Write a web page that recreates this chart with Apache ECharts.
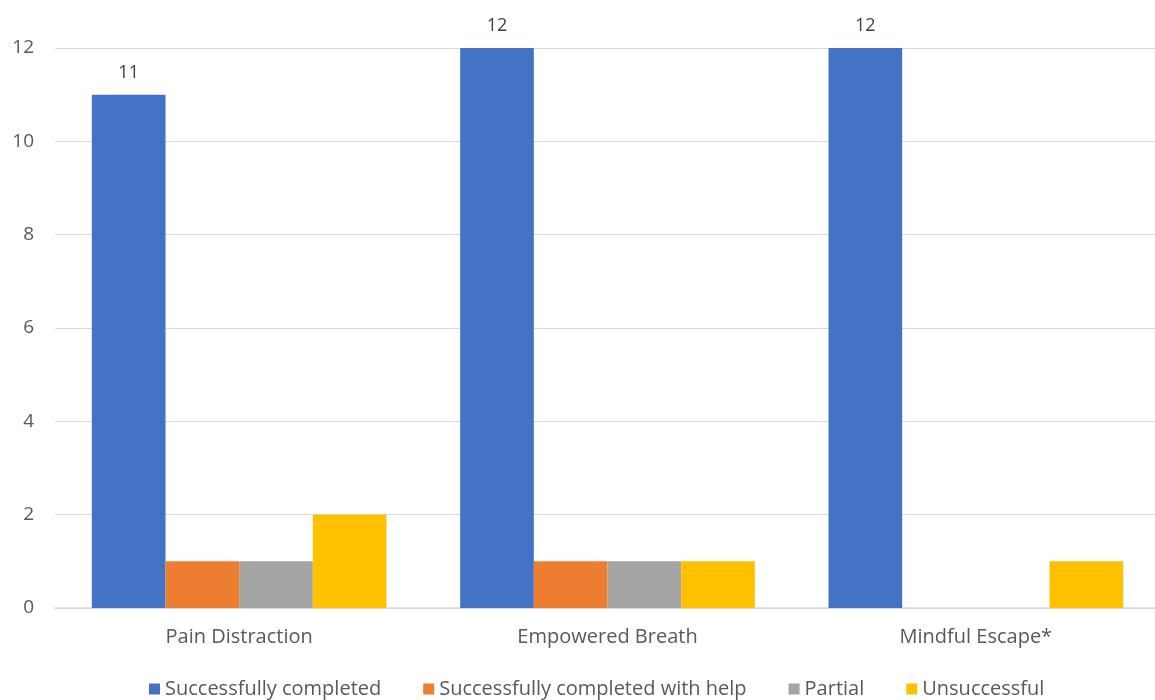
<!DOCTYPE html>
<html><head><meta charset="utf-8">
<script src="https://cdn.jsdelivr.net/npm/echarts@6/dist/echarts.min.js"></script>
<style>html,body{margin:0;padding:0;background:#fff}#c{width:1155px;height:700px}</style>
</head><body><div id="c"></div>
<script>
const categories = ["Pain Distraction", "Empowered Breath", "Mindful Escape*"];
const successfullyCompleted = [11, 12, 12];
const completedWithHelp = [1, 1, 0];
const partial = [1, 1, 0];
const unsuccessful = [2, 1, 1];
const seriesNames = ["Successfully completed", "Successfully completed with help", "Partial", "Unsuccessful"];
const colors = ["#4472C4", "#ED7D31", "#A5A5A5", "#FFC000"];
const font = "'Open Sans', 'Noto Sans', sans-serif";

const chart = echarts.init(document.getElementById('c'));
const mk = (name, data, color, label) => ({
  name, type: 'bar', data, barGap: 0, barCategoryGap: '20%',
  itemStyle: { color },
  label: label ? { show: true, position: 'top', distance: 13, color: '#404040', fontSize: 18, fontFamily: font } : { show: false }
});
chart.setOption({
  animation: false,
  textStyle: { fontFamily: font },
  grid: { left: 55, width: 1105, top: 48, bottom: 92, containLabel: false, outerBoundsMode: 'none' },
  legend: {
    top: 674, left: 144, itemWidth: 11, itemHeight: 11, itemGap: 42, icon: 'rect',
    textStyle: { color: '#595959', fontSize: 20, fontFamily: font },
    data: seriesNames
  },
  xAxis: {
    type: 'category', data: categories,
    axisLine: { lineStyle: { color: '#D9D9D9', width: 1.5 } },
    axisTick: { show: false },
    axisLabel: { color: '#595959', fontSize: 20, margin: 19, fontFamily: font }
  },
  yAxis: {
    type: 'value', min: 0, max: 12, interval: 2,
    axisLine: { show: false }, axisTick: { show: false },
    splitLine: { lineStyle: { color: '#D9D9D9', width: 1.2 } },
    axisLabel: { color: '#595959', fontSize: 19, margin: 21, fontFamily: font }
  },
  series: [
    mk(seriesNames[0], successfullyCompleted, colors[0], true),
    mk(seriesNames[1], completedWithHelp, colors[1], false),
    mk(seriesNames[2], partial, colors[2], false),
    mk(seriesNames[3], unsuccessful, colors[3], false)
  ]
});
</script></body></html>
